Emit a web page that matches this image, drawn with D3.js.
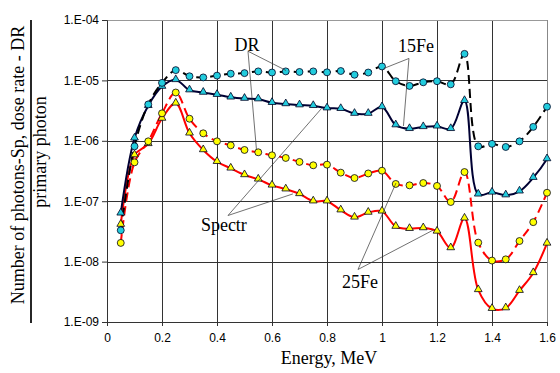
<!DOCTYPE html>
<html><head><meta charset="utf-8">
<script src="https://cdn.jsdelivr.net/npm/d3@7"></script>
<style>body{margin:0;background:#fff}svg{display:block}</style>
</head><body><svg id="c" width="560" height="373"></svg>
<script>
const energy = [0.05,0.10,0.15,0.20,0.25,0.30,0.35,0.40,0.45,0.50,0.55,0.60,0.65,0.70,0.75,0.80,
  0.85,0.90,0.95,1.00,1.05,1.10,1.15,1.20,1.25,1.30,1.35,1.40,1.45,1.50,1.55,1.60];
const fe15DR = [3.3e-8,8.1e-7,4.0e-6,9.1e-6,1.48e-5,1.17e-5,1.12e-5,1.20e-5,1.29e-5,1.32e-5,1.41e-5,1.35e-5,1.41e-5,1.38e-5,1.41e-5,1.36e-5,
  1.43e-5,1.24e-5,1.35e-5,1.70e-5,9.7e-6,8.1e-6,9.3e-6,9.7e-6,8.6e-6,2.75e-5,8.1e-7,8.9e-7,7.9e-7,9.8e-7,1.70e-6,3.67e-6];
const fe15Sp = [6.3e-8,1.10e-6,3.8e-6,7.9e-6,1.02e-5,6.9e-6,6.3e-6,5.8e-6,5.25e-6,5.0e-6,4.9e-6,4.27e-6,4.07e-6,3.9e-6,3.8e-6,3.47e-6,
  3.39e-6,2.82e-6,2.82e-6,3.63e-6,1.82e-6,1.58e-6,1.70e-6,1.74e-6,1.58e-6,4.6e-6,1.30e-7,1.40e-7,1.26e-7,1.46e-7,2.45e-7,5.0e-7];
const fe25DR = [2.04e-8,4.4e-7,9.8e-7,2.85e-6,6.3e-6,2.32e-6,1.33e-6,9.8e-7,8.4e-7,7.05e-7,6.45e-7,5.75e-7,5.2e-7,4.47e-7,3.93e-7,4.03e-7,
  2.97e-7,2.42e-7,2.88e-7,3.2e-7,1.93e-7,1.83e-7,2.0e-7,1.79e-7,9.7e-8,3.04e-7,2.06e-8,1.04e-8,1.09e-8,2.19e-8,4.5e-8,1.38e-7];
const fe25Sp = [4.1e-8,5.8e-7,8.9e-7,2.34e-6,4.17e-6,1.33e-6,7.05e-7,4.5e-7,3.5e-7,2.72e-7,2.3e-7,1.83e-7,1.58e-7,1.32e-7,1.0e-7,1.0e-7,
  7.1e-8,5.4e-8,6.5e-8,6.8e-8,3.8e-8,3.5e-8,3.6e-8,3.16e-8,1.68e-8,5.2e-8,3.4e-9,1.66e-9,1.7e-9,3.3e-9,6.5e-9,2.0e-8];
const xTicks = [0,0.2,0.4,0.6,0.8,1.0,1.2,1.4,1.6];
const yTicks = [1e-9,1e-8,1e-7,1e-6,1e-5,1e-4];
const xTitle = "Energy, MeV";
const yTitle1 = "Number of photons-Sp, dose rate - DR";
const yTitle2 = "primary photon";
// annotations: label position and pointer targets in data coordinates
const annLabels = ["DR","15Fe","Spectr","25Fe"];
const annText = [[0.509,3.1e-5],[1.124,2.9e-5],[0.425,3.2e-8],[0.92,3.66e-9]];
const annFrom = [[0.5127,3.04e-5],[1.098,2.31e-5],[0.44,5.8e-8],[0.9127,7.4e-9]];
const annTo = [
  [[0.651,1.46e-5],[0.5436,7.05e-7]],
  [[1.0055,1.57e-5],[1.078,1.76e-6]],
  [[0.78,3.43e-6],[0.676,1.32e-7]],
  [[1.0509,2.0e-7],[1.187,3.34e-8]]
];

const svg = d3.select("#c");
const x = d3.scaleLinear().domain([0,1.6]).range([107,547]);
const y = d3.scaleLog().domain([1e-9,1e-4]).range([322,20]);

// grid
const g = svg.append("g");
g.selectAll(".vg").data(xTicks.slice(1)).join("line")
  .attr("x1",d=>x(d)+0.5).attr("x2",d=>x(d)+0.5).attr("y1",y(1e-4)).attr("y2",y(1e-9))
  .attr("stroke",(d,i)=>i===xTicks.length-2?"#888":"#333").attr("stroke-width",1);
g.selectAll(".hg").data(yTicks.slice(1)).join("line")
  .attr("x1",x(0)).attr("x2",x(1.6)).attr("y1",d=>Math.round(y(d))+0.5).attr("y2",d=>Math.round(y(d))+0.5)
  .attr("stroke",(d,i)=>i===yTicks.length-2?"#999":"#333").attr("stroke-width",1);

// axes
const fmtY = d => "1.E-" + String(Math.round(-Math.log10(d))).padStart(2,"0");
const ax = svg.append("g").attr("transform",`translate(${x(0)},0)`)
  .call(d3.axisLeft(y).tickValues(yTicks).tickFormat(fmtY).tickSize(5).tickPadding(3));
const bx = svg.append("g").attr("transform",`translate(0,${y(1e-9)})`)
  .call(d3.axisBottom(x).tickValues(xTicks).tickFormat(d3.format("~g")).tickSize(4).tickPadding(7));
[ax,bx].forEach(a=>{
  a.select(".domain").attr("stroke","#333");
  a.selectAll(".tick line").attr("stroke","#333");
  a.selectAll("text").attr("font-family","Liberation Sans, Arial, sans-serif").attr("font-size",12).attr("fill","#000");
});

// series
const series = [
  {v:fe25Sp, line:"#ff0000", dash:null, fill:"#ffff00", shape:"tri", lw:2},
  {v:fe25DR, line:"#ff0000", dash:"9,5", fill:"#ffff00", shape:"circ", lw:2},
  {v:fe15Sp, line:"#000033", dash:null, fill:"#22ccdd", shape:"tri", lw:2},
  {v:fe15DR, line:"#000000", dash:"9,5", fill:"#22ccdd", shape:"circ", lw:2},
];
const lineGen = d3.line().x(d=>x(d[0])).y(d=>y(d[1])).curve(d3.curveCatmullRom.alpha(0.5));
series.forEach(s=>{
  const pts = energy.map((e,i)=>[e,s.v[i]]);
  svg.append("path").datum(pts).attr("d",lineGen).attr("fill","none")
    .attr("stroke",s.line).attr("stroke-width",s.lw).attr("stroke-dasharray",s.dash);
});
series.forEach(s=>{
  const pts = energy.map((e,i)=>[e,s.v[i]]);
  const sym = d3.symbol().type(s.shape==="tri"?d3.symbolTriangle:d3.symbolCircle).size(s.shape==="tri"?26:38);
  svg.append("g").selectAll("path").data(pts).join("path")
    .attr("transform",d=>`translate(${x(d[0])},${y(d[1])+(s.shape==="tri"?-0.5:0)})`)
    .attr("d",sym).attr("fill",s.fill).attr("stroke","#000022").attr("stroke-width",0.8);
});

// annotations
annLabels.forEach((lab,i)=>{
  annTo[i].forEach(t=>{
    svg.append("line").attr("x1",x(annFrom[i][0])).attr("y1",y(annFrom[i][1]))
      .attr("x2",x(t[0])).attr("y2",y(t[1])).attr("stroke","#333").attr("stroke-width",0.7);
  });
  svg.append("text").attr("x",x(annText[i][0])).attr("y",y(annText[i][1]))
    .attr("text-anchor","middle").attr("font-family","Liberation Serif, Times New Roman, serif")
    .attr("font-size",18).attr("fill","#000").text(lab);
});

// titles
svg.append("text").attr("x",x(0.8)+2).attr("y",364).attr("text-anchor","middle")
  .attr("font-family","Liberation Serif, Times New Roman, serif").attr("font-size",18).text(xTitle);
svg.append("text").attr("transform","translate(24,165) rotate(-90)").attr("text-anchor","middle")
  .attr("font-family","Liberation Serif, Times New Roman, serif").attr("font-size",18).text(yTitle1);
svg.append("line").attr("x1",31).attr("x2",31).attr("y1",20).attr("y2",323).attr("stroke","#000").attr("stroke-width",1.7);
svg.append("text").attr("transform","translate(46,152) rotate(-90)").attr("text-anchor","middle")
  .attr("font-family","Liberation Serif, Times New Roman, serif").attr("font-size",18).text(yTitle2);
</script></body></html>
